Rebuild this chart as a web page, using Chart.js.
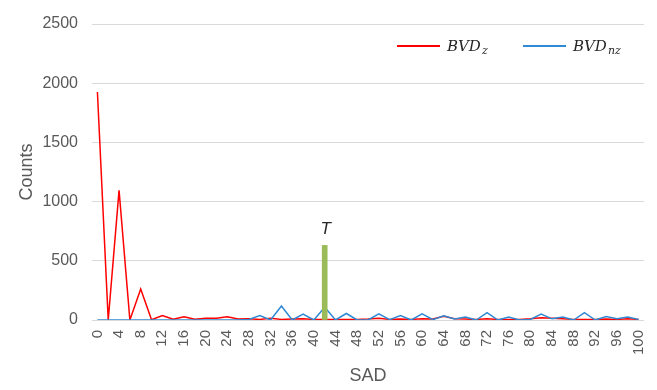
<!DOCTYPE html>
<html>
<head>
<meta charset="utf-8">
<script src="https://cdn.jsdelivr.net/npm/chart.js@4.4.1/dist/chart.umd.min.js"></script>
<style>
  html, body { margin: 0; padding: 0; background: #fff; }
  #wrap { width: 657px; height: 390px; }
</style>
</head>
<body>
<div id="wrap"><canvas id="myChart"></canvas></div>
<script>
// SAD bins (step 2), only every other one gets a tick label
const sadLabels = [
  '0', '2', '4', '6', '8', '10', '12', '14', '16', '18',
  '20', '22', '24', '26', '28', '30', '32', '34', '36', '38',
  '40', '42', '44', '46', '48', '50', '52', '54', '56', '58',
  '60', '62', '64', '66', '68', '70', '72', '74', '76', '78',
  '80', '82', '84', '86', '88', '90', '92', '94', '96', '98',
  '100'
];

const bvdZ = [
  1925, 0, 1095, 0, 262, 2, 38, 6, 28, 6,
  15, 15, 28, 8, 10, 5, 15, 5, 8, 10,
  5, 5, 5, 5, 5, 8, 15, 5, 8, 5,
  10, 8, 32, 10, 8, 5, 10, 5, 5, 5,
  10, 18, 15, 10, 5, 5, 5, 8, 5, 10,
  5
];

const bvdNz = [
  0, 0, 0, 0, 0, 0, 0, 0, 0, 0,
  0, 0, 0, 0, 5, 38, 0, 118, 0, 50,
  0, 108, 0, 55, 0, 0, 52, 3, 38, 0,
  52, 3, 35, 8, 25, 0, 62, 0, 25, 0,
  5, 50, 10, 25, 0, 62, 0, 30, 10, 25,
  5
];

// threshold marker T
const markerSad = '42';
const markerCount = 630;
const markerText = 'T';

const seriesNames = ['BVD', 'BVD'];
const seriesSubs = ['z', 'nz'];
const yTicks = [0, 500, 1000, 1500, 2000, 2500];

const markerData = sadLabels.map(l => (l === markerSad ? markerCount : null));

// legend with subscripts, drawn inside the plot (top right)
const mathLegend = {
  id: 'mathLegend',
  afterDraw(chart) {
    const ctx = chart.ctx;
    const startX = [397, 523];
    const y = 46;
    ctx.save();
    for (let i = 0; i < 2; i++) {
      const ds = chart.data.datasets[i];
      ctx.strokeStyle = ds.borderColor;
      ctx.lineWidth = 2;
      ctx.beginPath();
      ctx.moveTo(startX[i], y);
      ctx.lineTo(startX[i] + 43, y);
      ctx.stroke();

      ctx.fillStyle = '#262626';
      ctx.textBaseline = 'alphabetic';
      ctx.textAlign = 'left';
      ctx.font = 'italic 15px "DejaVu Serif"';
      const tx = startX[i] + 50;
      ctx.fillText(seriesNames[i], tx, y + 5);
      const w = ctx.measureText(seriesNames[i]).width;
      ctx.font = 'italic 11px "DejaVu Serif"';
      ctx.fillText(seriesSubs[i], tx + w + 1, y + 8);
    }
    ctx.restore();
  }
};

// "T" label above the marker bar
const markerLabel = {
  id: 'markerLabel',
  afterDatasetsDraw(chart) {
    const meta = chart.getDatasetMeta(2);
    const idx = sadLabels.indexOf(markerSad);
    const bar = meta.data[idx];
    if (!bar) return;
    const ctx = chart.ctx;
    ctx.save();
    ctx.fillStyle = '#262626';
    ctx.font = 'italic 17px "Liberation Sans"';
    ctx.textAlign = 'center';
    ctx.textBaseline = 'bottom';
    ctx.fillText(markerText, bar.x + 1, bar.y - 8);
    ctx.restore();
  }
};

const ctx = document.getElementById('myChart').getContext('2d');
new Chart(ctx, {
  type: 'line',
  data: {
    labels: sadLabels,
    datasets: [
      {
        label: 'BVD_z',
        data: bvdZ,
        borderColor: '#ff0000',
        borderWidth: 1.5,
        pointRadius: 0,
        tension: 0,
        order: 2
      },
      {
        label: 'BVD_nz',
        data: bvdNz,
        borderColor: '#2f89d4',
        borderWidth: 1.5,
        pointRadius: 0,
        tension: 0,
        order: 1
      },
      {
        type: 'bar',
        label: 'T',
        data: markerData,
        backgroundColor: '#9bbb59',
        barThickness: 5,
        order: 0
      }
    ]
  },
  options: {
    responsive: true,
    maintainAspectRatio: false,
    animation: false,
    layout: { padding: { top: 24, right: 13, left: 0, bottom: 0 } },
    plugins: {
      legend: { display: false },
      tooltip: { enabled: false }
    },
    scales: {
      x: {
        type: 'category',
        offset: true,
        grid: { display: false, drawTicks: false },
        border: { display: false },
        ticks: {
          autoSkip: false,
          minRotation: 90,
          maxRotation: 90,
          padding: 10,
          color: '#595959',
          font: { family: 'Liberation Sans', size: 15 },
          callback: function (val, index) {
            return index % 2 === 0 ? this.getLabelForValue(val) : '';
          }
        },
        title: {
          display: true,
          text: 'SAD',
          color: '#595959',
          font: { family: 'Liberation Sans', size: 18 },
          padding: { top: 0, bottom: 3 }
        },
        afterFit: scale => {
          scale.height = 70;
          scale.paddingLeft = 0;
          scale.paddingRight = 0;
        }
      },
      y: {
        min: 0,
        max: 2500,
        afterBuildTicks: scale => { scale.ticks = yTicks.map(v => ({ value: v })); },
        grid: { color: '#d9d9d9', drawTicks: false },
        border: { display: false },
        ticks: {
          padding: 14,
          color: '#595959',
          font: { family: 'Liberation Sans', size: 16 },
          callback: v => String(v)
        },
        title: {
          display: true,
          text: 'Counts',
          color: '#595959',
          font: { family: 'Liberation Sans', size: 18 },
          padding: { top: 16, bottom: 0 }
        },
        afterFit: scale => { scale.width = 92; }
      }
    }
  },
  plugins: [mathLegend, markerLabel]
});
</script>
</body>
</html>
